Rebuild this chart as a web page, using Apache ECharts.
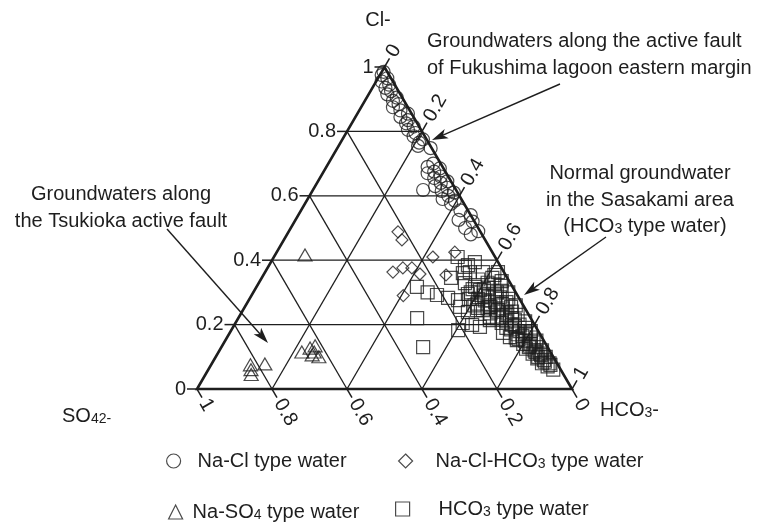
<!DOCTYPE html>
<html><head><meta charset="utf-8">
<script src="https://cdn.jsdelivr.net/npm/echarts@6/dist/echarts.min.js"></script>
<style>html,body{margin:0;padding:0;background:#fff}#c{width:768px;height:528px}</style>
</head><body><div id="c"></div>
<script>
// Ternary axis ticks
const ticks = [0, 0.2, 0.4, 0.6, 0.8, 1];
const tickLabels = ['0', '0.2', '0.4', '0.6', '0.8', '1'];

// Each point: [Cl fraction, SO4 fraction]; HCO3 = 1 - Cl - SO4
const naCl = [
  [0.985,0.01],[0.975,0.02],[0.965,0.01],[0.955,0.03],[0.945,0.015],[0.935,0.03],[0.925,0.02],
  [0.915,0.035],[0.905,0.015],[0.895,0.03],[0.885,0.02],[0.875,0.04],[0.865,0.025],[0.855,0.01],
  [0.845,0.035],[0.835,0.02],[0.825,0.03],[0.815,0.015],[0.805,0.035],[0.795,0.02],[0.785,0.03],
  [0.775,0.01],[0.765,0.025],[0.755,0.033],[0.748,0.003],
  [0.618,0.088],
  [0.70,0.02],[0.69,0.04],[0.685,0.01],[0.675,0.03],[0.67,0.05],[0.66,0.02],[0.655,0.04],
  [0.645,0.01],[0.64,0.03],[0.63,0.05],[0.625,0.02],[0.615,0.04],[0.61,0.01],[0.60,0.03],
  [0.59,0.05],[0.585,0.02],[0.575,0.035],
  [0.555,0.02],[0.54,0.0],[0.525,0.04],[0.52,0.005],[0.50,0.035],[0.49,0.005],[0.48,0.03]
];
const naClHco3 = [
  [0.488,0.22],[0.463,0.222],[0.41,0.166],[0.425,0.10],[0.363,0.296],[0.376,0.263],
  [0.376,0.239],[0.357,0.227],[0.354,0.159],[0.29,0.305]
];
const naSo4 = [
  [0.416,0.504],[0.075,0.82],[0.06,0.826],[0.045,0.833],[0.078,0.78],
  [0.115,0.663],[0.127,0.635],[0.134,0.618],[0.106,0.64],[0.115,0.63],[0.10,0.625]
];
const hco3Type = [
  [0.41,0.10],[0.394,0.062],[0.385,0.085],[0.379,0.096],[0.363,0.091],[0.36,0.111],[0.363,0.056],
  [0.363,0.016],[0.354,0.03],[0.345,0.15],[0.329,0.121],[0.317,0.255],[0.317,0.10],[0.307,0.092],
  [0.30,0.235],[0.292,0.214],[0.283,0.189],[0.276,0.166],[0.255,0.171],[0.252,0.125],[0.245,0.131],
  [0.239,0.158],[0.224,0.107],[0.22,0.303],[0.214,0.112],[0.205,0.189],[0.199,0.167],[0.193,0.149],
  [0.183,0.212],[0.174,0.097],[0.161,0.085],[0.152,0.071],[0.13,0.332],
  [0.33,0.06],[0.32,0.03],[0.31,0.08],[0.30,0.05],[0.30,0.02],[0.29,0.09],[0.29,0.06],[0.28,0.03],
  [0.28,0.11],[0.27,0.07],[0.27,0.04],[0.26,0.09],[0.26,0.02],[0.25,0.06],[0.25,0.10],[0.24,0.04],
  [0.24,0.08],[0.23,0.03],[0.23,0.06],[0.22,0.09],[0.22,0.05],[0.21,0.02],[0.21,0.07],[0.20,0.04],
  [0.20,0.06],[0.19,0.03],[0.19,0.08],[0.18,0.05],[0.18,0.02],[0.17,0.06],[0.17,0.04],[0.16,0.03],
  [0.16,0.07],[0.15,0.05],[0.15,0.02],[0.14,0.04],[0.14,0.06],[0.13,0.03],[0.13,0.05],[0.12,0.02],
  [0.12,0.04],[0.11,0.03],[0.11,0.05],[0.10,0.02],[0.10,0.04],[0.09,0.03],[0.08,0.04],[0.08,0.02],
  [0.07,0.03],[0.06,0.02],
  [0.31,0.11],[0.295,0.13],[0.285,0.08],[0.265,0.12],[0.255,0.09],[0.235,0.10],[0.345,0.04],
  [0.34,0.08],[0.335,0.02],
  [0.325,0.045],[0.315,0.065],[0.305,0.035],[0.295,0.075],[0.285,0.05],[0.275,0.095],[0.265,0.055],
  [0.255,0.035],[0.245,0.075],[0.235,0.055],[0.225,0.075],[0.215,0.045],[0.205,0.085],[0.195,0.055],
  [0.185,0.07],[0.175,0.035],[0.165,0.05],[0.155,0.065],[0.145,0.03],[0.135,0.045],[0.125,0.06],
  [0.115,0.04],[0.105,0.03],[0.095,0.045],[0.085,0.03],[0.075,0.02],
  [0.30,0.12],[0.28,0.135],[0.26,0.13],[0.245,0.115]
];

const FONT = '"Liberation Sans", Arial, Helvetica, sans-serif';
const INK = '#1e1e1e';

// ternary -> cartesian (left vertex SO4=1 at (0,0), right vertex HCO3=1 at (1,0), top Cl=1 at (0.5,1))
function toXY(p) { const c = p[0], s = p[1], h = 1 - c - s; return [h + c / 2, c]; }

function renderFrame(params, api) {
  const i = params.dataIndex, t = ticks[i];
  const ch = [];
  const line = (a, b, w) => ch.push({ type: 'line', shape: { x1: a[0], y1: a[1], x2: b[0], y2: b[1] },
    style: { stroke: INK, lineWidth: w }, silent: true });
  const txt = (p, text, rot, align) => ch.push({ type: 'text', x: p[0], y: p[1], rotation: rot,
    style: { text: text, fill: INK, font: '20px ' + FONT, align: align, verticalAlign: 'middle' }, silent: true });
  if (t > 0 && t < 1) {
    line(api.coord([t / 2, t]), api.coord([1 - t / 2, t]), 1.3);
    line(api.coord([t, 0]), api.coord([t + (1 - t) / 2, 1 - t]), 1.3);
    line(api.coord([1 - t, 0]), api.coord([(1 - t) / 2, 1 - t]), 1.3);
  }
  // left axis: Cl
  let P = api.coord([t / 2, t]);
  line(P, [P[0] - 10, P[1]], 1.5);
  txt([P[0] - 11, P[1]], tickLabels[i], 0, 'right');
  // bottom axis: SO4
  const d1 = [0.5, 0.866];
  P = api.coord([1 - t, 0]);
  line(P, [P[0] + 10 * d1[0], P[1] + 10 * d1[1]], 1.5);
  txt([P[0] + 13 * d1[0], P[1] + 13 * d1[1]], tickLabels[i], -Math.PI / 3, 'left');
  // right axis: HCO3
  const d2 = [0.5, -0.866];
  P = api.coord([t + (1 - t) / 2, 1 - t]);
  line(P, [P[0] + 10 * d2[0], P[1] + 10 * d2[1]], 1.5);
  txt([P[0] + 13 * d2[0], P[1] + 13 * d2[1]], tickLabels[i], Math.PI / 3, 'left');
  if (i === 0) {
    const A = api.coord([0, 0]), B = api.coord([1, 0]), C = api.coord([0.5, 1]);
    ch.push({ type: 'polygon', shape: { points: [A, B, C] }, style: { fill: 'none', stroke: INK, lineWidth: 2.6, lineJoin: 'miter' }, silent: true });
  }
  return { type: 'group', children: ch };
}

function arrow(x1, y1, x2, y2) {
  const dx = x2 - x1, dy = y2 - y1, L = Math.hypot(dx, dy), ux = dx / L, uy = dy / L;
  const len = 16, hw = 5;
  const bx = x2 - ux * len, by = y2 - uy * len;
  const nx = x2 - ux * (len - 4), ny = y2 - uy * (len - 4);
  return [
    { type: 'line', shape: { x1: x1, y1: y1, x2: bx + ux * 4, y2: by + uy * 4 }, style: { stroke: INK, lineWidth: 1.4 } },
    { type: 'polygon', shape: { points: [[x2, y2], [bx - uy * hw, by + ux * hw], [nx, ny], [bx + uy * hw, by - ux * hw]] }, style: { fill: INK } }
  ];
}
function label(x, y, text, align) {
  return { type: 'text', x: x, y: y, style: { text: text, fill: INK, font: '20px ' + FONT, align: align || 'left', verticalAlign: 'middle',
    rich: { s: { fontSize: 14, fontFamily: FONT, fill: INK, verticalAlign: 'bottom', padding: [6, 0, 0, 0] } } } };
}

const sub = n => n.replace(/(\d)/, '{s|$1}');
const mkStyle = { color: 'rgba(0,0,0,0)', borderColor: INK, borderWidth: 1.2 };
function scatter(name, data, symbol, size) {
  return { type: 'scatter', name: name, data: data.map(toXY), symbol: symbol, symbolSize: size,
    itemStyle: mkStyle, emphasis: { disabled: true }, z: 3 };
}
function legend(name, left, top, symbol, pad) {
  return { data: [{ name: name, icon: symbol }], left: left, top: top, padding: 0, itemWidth: 14, itemHeight: 14,
    itemStyle: mkStyle, selectedMode: false,
    formatter: sub,
    textStyle: { fontSize: 20, fontFamily: FONT, color: INK, padding: [0, 0, 0, pad],
      rich: { s: { fontSize: 14, fontFamily: FONT, color: INK, verticalAlign: 'bottom', padding: [6, 0, 0, 0] } } } };
}

const chart = echarts.init(document.getElementById('c'));
chart.setOption({
  backgroundColor: '#fff',
  animation: false,
  grid: { left: 197, top: 67, width: 375, height: 322 },
  xAxis: { type: 'value', min: 0, max: 1, show: false },
  yAxis: { type: 'value', min: 0, max: 1, show: false },
  legend: [
    legend('Na-Cl type water', 166, 451, 'circle', 12),
    legend('Na-Cl-HCO3 type water', 398, 451, 'diamond', 18),
    legend('Na-SO4 type water', 168, 502, 'triangle', 5),
    legend('HCO3 type water', 395, 499, 'rect', 24)
  ],
  series: [
    { type: 'custom', coordinateSystem: 'cartesian2d', data: ticks.map(t => [t, t]), renderItem: renderFrame,
      silent: true, clip: false, z: 1 },
    scatter('Na-Cl type water', naCl, 'circle', 13),
    scatter('Na-Cl-HCO3 type water', naClHco3, 'diamond', 12),
    scatter('Na-SO4 type water', naSo4, 'triangle', [14, 12]),
    scatter('HCO3 type water', hco3Type, 'rect', 13)
  ],
  graphic: [
    label(378, 20, 'Cl-', 'center'),
    label(62, 416, 'SO{s|42-}'),
    label(600, 410, 'HCO{s|3}-'),
    label(427, 41, 'Groundwaters along the active fault'),
    label(427, 68, 'of Fukushima lagoon eastern margin'),
    label(640, 173, 'Normal groundwater', 'center'),
    label(640, 200, 'in the Sasakami area', 'center'),
    label(645, 226, '(HCO{s|3} type water)', 'center'),
    label(121, 194, 'Groundwaters along', 'center'),
    label(121, 221, 'the Tsukioka active fault', 'center'),
    ...arrow(560, 84, 432, 140),
    ...arrow(606, 237, 524, 295),
    ...arrow(167, 229, 268, 343)
  ]
});
</script></body></html>
